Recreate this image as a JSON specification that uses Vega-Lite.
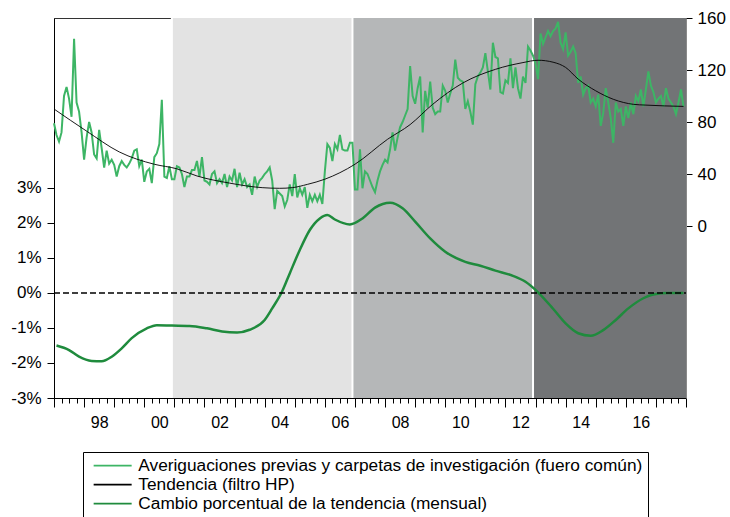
{
  "$schema": "https://vega.github.io/schema/vega-lite/v6.json",
  "width": 632,
  "height": 380,
  "autosize": {"type": "none"},
  "padding": {"left": 54, "top": 18, "right": 44, "bottom": 119},
  "background": "white",
  "config": {"view": {"stroke": "#333333", "strokeWidth": 1}, "font": "Liberation Sans"},
  "datasets": {
    "shades": [
      {"t": 2000.917, "t2": 2006.917, "c": "light"},
      {"t": 2006.917, "t2": 2012.917, "c": "mid"},
      {"t": 2012.917, "t2": 2018, "c": "dark"}
    ],
    "bounds": [{"t": 2000.917}, {"t": 2006.917}, {"t": 2012.917}],
    "zero": [{"t": 1997, "t2": 2018, "p": 0}],
    "raw": [
      {"t":1997.000,"v":79},{"t":1997.083,"v":70},{"t":1997.167,"v":65},{"t":1997.250,"v":72},{"t":1997.333,"v":100},{"t":1997.417,"v":107},{"t":1997.500,"v":98},{"t":1997.583,"v":84},{"t":1997.667,"v":144},{"t":1997.750,"v":95},{"t":1997.833,"v":88},{"t":1997.917,"v":72},
      {"t":1998.000,"v":51},{"t":1998.083,"v":68},{"t":1998.167,"v":80},{"t":1998.250,"v":72},{"t":1998.333,"v":55},{"t":1998.417,"v":52},{"t":1998.500,"v":74},{"t":1998.583,"v":60},{"t":1998.667,"v":45},{"t":1998.750,"v":58},{"t":1998.833,"v":48},{"t":1998.917,"v":51},
      {"t":1999.000,"v":47},{"t":1999.083,"v":38},{"t":1999.167,"v":46},{"t":1999.250,"v":50},{"t":1999.333,"v":47},{"t":1999.417,"v":45},{"t":1999.500,"v":48},{"t":1999.583,"v":52},{"t":1999.667,"v":58},{"t":1999.750,"v":59},{"t":1999.833,"v":46},{"t":1999.917,"v":51},
      {"t":2000.000,"v":34},{"t":2000.083,"v":42},{"t":2000.167,"v":44},{"t":2000.250,"v":33},{"t":2000.333,"v":53},{"t":2000.417,"v":56},{"t":2000.500,"v":63},{"t":2000.583,"v":97},{"t":2000.667,"v":38},{"t":2000.750,"v":37},{"t":2000.833,"v":46},{"t":2000.917,"v":36},
      {"t":2001.000,"v":36},{"t":2001.083,"v":46},{"t":2001.167,"v":45},{"t":2001.250,"v":40},{"t":2001.333,"v":30},{"t":2001.417,"v":38},{"t":2001.500,"v":38},{"t":2001.583,"v":43},{"t":2001.667,"v":43},{"t":2001.750,"v":50},{"t":2001.833,"v":38},{"t":2001.917,"v":53},
      {"t":2002.000,"v":35},{"t":2002.083,"v":34},{"t":2002.167,"v":32},{"t":2002.250,"v":40},{"t":2002.333,"v":42},{"t":2002.417,"v":33},{"t":2002.500,"v":36},{"t":2002.583,"v":33},{"t":2002.667,"v":40},{"t":2002.750,"v":30},{"t":2002.833,"v":38},{"t":2002.917,"v":35},
      {"t":2003.000,"v":44},{"t":2003.083,"v":30},{"t":2003.167,"v":41},{"t":2003.250,"v":32},{"t":2003.333,"v":36},{"t":2003.417,"v":30},{"t":2003.500,"v":32},{"t":2003.583,"v":24},{"t":2003.667,"v":38},{"t":2003.750,"v":30},{"t":2003.833,"v":35},{"t":2003.917,"v":37},
      {"t":2004.000,"v":40},{"t":2004.083,"v":42},{"t":2004.167,"v":45},{"t":2004.250,"v":35},{"t":2004.333,"v":13},{"t":2004.417,"v":27},{"t":2004.500,"v":25},{"t":2004.583,"v":23},{"t":2004.667,"v":15},{"t":2004.750,"v":20},{"t":2004.833,"v":32},{"t":2004.917,"v":23},
      {"t":2005.000,"v":40},{"t":2005.083,"v":22},{"t":2005.167,"v":29},{"t":2005.250,"v":24},{"t":2005.333,"v":30},{"t":2005.417,"v":14},{"t":2005.500,"v":24},{"t":2005.583,"v":19},{"t":2005.667,"v":24},{"t":2005.750,"v":19},{"t":2005.833,"v":24},{"t":2005.917,"v":17},
      {"t":2006.000,"v":42},{"t":2006.083,"v":63},{"t":2006.167,"v":60},{"t":2006.250,"v":50},{"t":2006.333,"v":63},{"t":2006.417,"v":59},{"t":2006.500,"v":70},{"t":2006.583,"v":59},{"t":2006.667,"v":58},{"t":2006.750,"v":58},{"t":2006.833,"v":64},{"t":2006.917,"v":64},
      {"t":2007.000,"v":28},{"t":2007.083,"v":28},{"t":2007.167,"v":59},{"t":2007.250,"v":29},{"t":2007.333,"v":42},{"t":2007.417,"v":40},{"t":2007.500,"v":35},{"t":2007.583,"v":30},{"t":2007.667,"v":26},{"t":2007.750,"v":35},{"t":2007.833,"v":42},{"t":2007.917,"v":47},
      {"t":2008.000,"v":51},{"t":2008.083,"v":49},{"t":2008.167,"v":59},{"t":2008.250,"v":72},{"t":2008.333,"v":58},{"t":2008.417,"v":68},{"t":2008.500,"v":76},{"t":2008.583,"v":80},{"t":2008.667,"v":85},{"t":2008.750,"v":90},{"t":2008.833,"v":123},{"t":2008.917,"v":100},
      {"t":2009.000,"v":94},{"t":2009.083,"v":106},{"t":2009.167,"v":115},{"t":2009.250,"v":72},{"t":2009.333,"v":104},{"t":2009.417,"v":91},{"t":2009.500,"v":111},{"t":2009.583,"v":91},{"t":2009.667,"v":86},{"t":2009.750,"v":88},{"t":2009.833,"v":88},{"t":2009.917,"v":108},
      {"t":2010.000,"v":104},{"t":2010.083,"v":95},{"t":2010.167,"v":102},{"t":2010.250,"v":108},{"t":2010.333,"v":128},{"t":2010.417,"v":114},{"t":2010.500,"v":112},{"t":2010.583,"v":111},{"t":2010.667,"v":90},{"t":2010.750,"v":96},{"t":2010.833,"v":88},{"t":2010.917,"v":78},
      {"t":2011.000,"v":109},{"t":2011.083,"v":115},{"t":2011.167,"v":118},{"t":2011.250,"v":122},{"t":2011.333,"v":133},{"t":2011.417,"v":119},{"t":2011.500,"v":105},{"t":2011.583,"v":141},{"t":2011.667,"v":130},{"t":2011.750,"v":129},{"t":2011.833,"v":103},{"t":2011.917,"v":102},
      {"t":2012.000,"v":112},{"t":2012.083,"v":110},{"t":2012.167,"v":129},{"t":2012.250,"v":106},{"t":2012.333,"v":122},{"t":2012.417,"v":106},{"t":2012.500,"v":98},{"t":2012.583,"v":115},{"t":2012.667,"v":110},{"t":2012.750,"v":138},{"t":2012.833,"v":135},{"t":2012.917,"v":131},
      {"t":2013.000,"v":125},{"t":2013.083,"v":113},{"t":2013.167,"v":148},{"t":2013.250,"v":140},{"t":2013.333,"v":145},{"t":2013.417,"v":150},{"t":2013.500,"v":146},{"t":2013.583,"v":150},{"t":2013.667,"v":152},{"t":2013.750,"v":157},{"t":2013.833,"v":141},{"t":2013.917,"v":136},
      {"t":2014.000,"v":149},{"t":2014.083,"v":131},{"t":2014.167,"v":134},{"t":2014.250,"v":138},{"t":2014.333,"v":133},{"t":2014.417,"v":110},{"t":2014.500,"v":115},{"t":2014.583,"v":101},{"t":2014.667,"v":106},{"t":2014.750,"v":108},{"t":2014.833,"v":95},{"t":2014.917,"v":98},
      {"t":2015.000,"v":92},{"t":2015.083,"v":101},{"t":2015.167,"v":77},{"t":2015.250,"v":87},{"t":2015.333,"v":106},{"t":2015.417,"v":95},{"t":2015.500,"v":83},{"t":2015.583,"v":64},{"t":2015.667,"v":95},{"t":2015.750,"v":88},{"t":2015.833,"v":90},{"t":2015.917,"v":77},
      {"t":2016.000,"v":92},{"t":2016.083,"v":83},{"t":2016.167,"v":95},{"t":2016.250,"v":86},{"t":2016.333,"v":100},{"t":2016.417,"v":96},{"t":2016.500,"v":105},{"t":2016.583,"v":92},{"t":2016.667,"v":105},{"t":2016.750,"v":119},{"t":2016.833,"v":108},{"t":2016.917,"v":103},
      {"t":2017.000,"v":95},{"t":2017.083,"v":98},{"t":2017.167,"v":100},{"t":2017.250,"v":92},{"t":2017.333,"v":106},{"t":2017.417,"v":98},{"t":2017.500,"v":95},{"t":2017.583,"v":92},{"t":2017.667,"v":86},{"t":2017.750,"v":95},{"t":2017.833,"v":105},{"t":2017.917,"v":92}
    ],
    "trend": [
      {"t":1997.000,"v":90},{"t":1998.083,"v":73},{"t":1999.167,"v":57},{"t":2000.333,"v":47.5},{"t":2001.083,"v":44},{"t":2001.750,"v":38.5},{"t":2002.833,"v":33},{"t":2003.917,"v":29.5},{"t":2004.500,"v":29},{"t":2004.917,"v":29.5},{"t":2005.417,"v":32},{"t":2006.000,"v":36},{"t":2007.000,"v":47.5},{"t":2008.083,"v":66.7},{"t":2008.833,"v":78},{"t":2009.583,"v":93.6},{"t":2010.583,"v":110},{"t":2011.667,"v":120.5},{"t":2012.583,"v":125.7},{"t":2013.083,"v":127.5},{"t":2013.583,"v":126},{"t":2014.000,"v":122},{"t":2014.417,"v":113},{"t":2015.000,"v":104},{"t":2015.583,"v":97.5},{"t":2016.250,"v":93.6},{"t":2016.667,"v":93},{"t":2017.917,"v":92}
    ],
    "pct": [
      {"t":1997.083,"p":-1.5},{"t":1997.5,"p":-1.63},{"t":1997.833,"p":-1.82},{"t":1998.25,"p":-1.94},{"t":1998.583,"p":-1.95},{"t":1998.917,"p":-1.82},{"t":1999.25,"p":-1.58},{"t":1999.583,"p":-1.29},{"t":2000.083,"p":-1.01},{"t":2000.417,"p":-0.92},{"t":2000.917,"p":-0.93},{"t":2001.5,"p":-0.94},{"t":2002.083,"p":-1.01},{"t":2002.583,"p":-1.1},{"t":2003.083,"p":-1.13},{"t":2003.5,"p":-1.05},{"t":2004.0,"p":-0.77},{"t":2004.25,"p":-0.44},{"t":2004.583,"p":0.05},{"t":2004.833,"p":0.56},{"t":2005.167,"p":1.23},{"t":2005.5,"p":1.8},{"t":2005.833,"p":2.13},{"t":2006.083,"p":2.23},{"t":2006.333,"p":2.1},{"t":2006.833,"p":1.96},{"t":2007.25,"p":2.13},{"t":2007.667,"p":2.44},{"t":2008.167,"p":2.58},{"t":2008.583,"p":2.42},{"t":2009.0,"p":2.04},{"t":2009.5,"p":1.56},{"t":2010.0,"p":1.18},{"t":2010.667,"p":0.89},{"t":2011.167,"p":0.78},{"t":2011.667,"p":0.64},{"t":2012.25,"p":0.49},{"t":2012.667,"p":0.32},{"t":2013.083,"p":0.02},{"t":2013.583,"p":-0.45},{"t":2014.0,"p":-0.87},{"t":2014.417,"p":-1.15},{"t":2014.833,"p":-1.22},{"t":2015.25,"p":-1.06},{"t":2015.667,"p":-0.77},{"t":2016.083,"p":-0.44},{"t":2016.583,"p":-0.15},{"t":2016.917,"p":-0.04},{"t":2017.417,"p":0},{"t":2017.917,"p":0}
    ]
  },
  "encoding": {
    "x": {"field": "t", "type": "quantitative", "scale": {"domain": [1997, 2018], "nice": false, "zero": false},
      "axis": {
        "values": [1997,1997.25,1997.5,1997.75,1998,1998.25,1998.5,1998.75,1999,1999.25,1999.5,1999.75,2000,2000.25,2000.5,2000.75,2001,2001.25,2001.5,2001.75,2002,2002.25,2002.5,2002.75,2003,2003.25,2003.5,2003.75,2004,2004.25,2004.5,2004.75,2005,2005.25,2005.5,2005.75,2006,2006.25,2006.5,2006.75,2007,2007.25,2007.5,2007.75,2008,2008.25,2008.5,2008.75,2009,2009.25,2009.5,2009.75,2010,2010.25,2010.5,2010.75,2011,2011.25,2011.5,2011.75,2012,2012.25,2012.5,2012.75,2013,2013.25,2013.5,2013.75,2014,2014.25,2014.5,2014.75,2015,2015.25,2015.5,2015.75,2016,2016.25,2016.5,2016.75,2017,2017.25,2017.5,2017.75,2018],
        "labelExpr": "(datum.value % 2 == 0.5) ? slice(toString(floor(datum.value)), 2) : ''",
        "tickSize": {"condition": {"test": "datum.value % 1 == 0", "value": 9}, "value": 5},
        "tickColor": "black",
        "domainColor": "black",
        "labelFontSize": 16,
        "labelFont": "Liberation Sans",
        "labelColor": "black",
        "labelPadding": 11,
        "labelFlush": false,
        "labelOverlap": false,
        "labelBound": false,
        "grid": false,
        "title": null
      }
    }
  },
  "layer": [
    {
      "data": {"name": "shades"},
      "mark": {"type": "rect"},
      "encoding": {
        "x2": {"field": "t2"},
        "fill": {"field": "c", "type": "nominal", "scale": {"domain": ["light", "mid", "dark"], "range": ["#e3e3e3", "#b5b7b8", "#727476"]}, "legend": null}
      }
    },
    {
      "data": {"name": "bounds"},
      "mark": {"type": "rule", "color": "white", "strokeWidth": 2}
    },
    {
      "encoding": {
        "y": {"field": "v", "type": "quantitative", "scale": {"domain": [-132.3, 160], "nice": false, "zero": false},
          "axis": {"orient": "right", "values": [0, 40, 80, 120, 160], "tickSize": 6, "labelPadding": 5, "tickColor": "black", "domainColor": "#8a8a8a", "labelFontSize": 17, "labelFont": "Liberation Sans", "labelColor": "black", "grid": false, "title": null}}
      },
      "layer": [
        {
          "data": {"name": "raw"},
          "mark": {"type": "line", "strokeWidth": 2},
          "encoding": {
            "color": {"datum": "Averiguaciones previas y carpetas de investigación (fuero común)", "type": "nominal"}
          }
        },
        {
          "data": {"name": "trend"},
          "mark": {"type": "line", "strokeWidth": 0.9, "interpolate": "monotone"},
          "encoding": {
            "color": {"datum": "Tendencia (filtro HP)", "type": "nominal"}
          }
        }
      ]
    },
    {
      "encoding": {
        "y": {"field": "p", "type": "quantitative", "scale": {"domain": [-3, 7.857], "nice": false, "zero": false},
          "axis": {"orient": "left", "values": [-3, -2, -1, 0, 1, 2, 3], "labelExpr": "datum.value + '%'", "tickSize": 7, "labelPadding": 6, "tickColor": "black", "domainColor": "black", "labelFontSize": 17, "labelFont": "Liberation Sans", "labelColor": "black", "grid": false, "title": null}}
      },
      "layer": [
        {
          "data": {"name": "pct"},
          "mark": {"type": "line", "strokeWidth": 2.5, "interpolate": "monotone"},
          "encoding": {
            "color": {
              "datum": "Cambio porcentual de la tendencia (mensual)", "type": "nominal",
              "scale": {"domain": ["Averiguaciones previas y carpetas de investigación (fuero común)", "Tendencia (filtro HP)", "Cambio porcentual de la tendencia (mensual)"], "range": ["#3db565", "#000000", "#1f8b3d"]},
              "legend": {"orient": "none", "legendX": 29, "legendY": 434, "title": null, "symbolType": "M-3.8,0H3.8", "symbolSize": 100, "symbolStrokeWidth": 1.6, "symbolOffset": 16, "labelFontSize": 17.3, "labelFont": "Liberation Sans", "labelColor": "black", "labelLimit": 1000, "labelOffset": 17, "strokeColor": "black", "fillColor": "white", "padding": 5, "rowPadding": 1}
            }
          }
        },
        {
          "data": {"name": "zero"},
          "mark": {"type": "rule", "color": "black", "strokeWidth": 1.5, "strokeDash": [6, 3]},
          "encoding": {"x2": {"field": "t2"}}
        }
      ]
    }
  ],
  "resolve": {"scale": {"y": "independent"}}
}
